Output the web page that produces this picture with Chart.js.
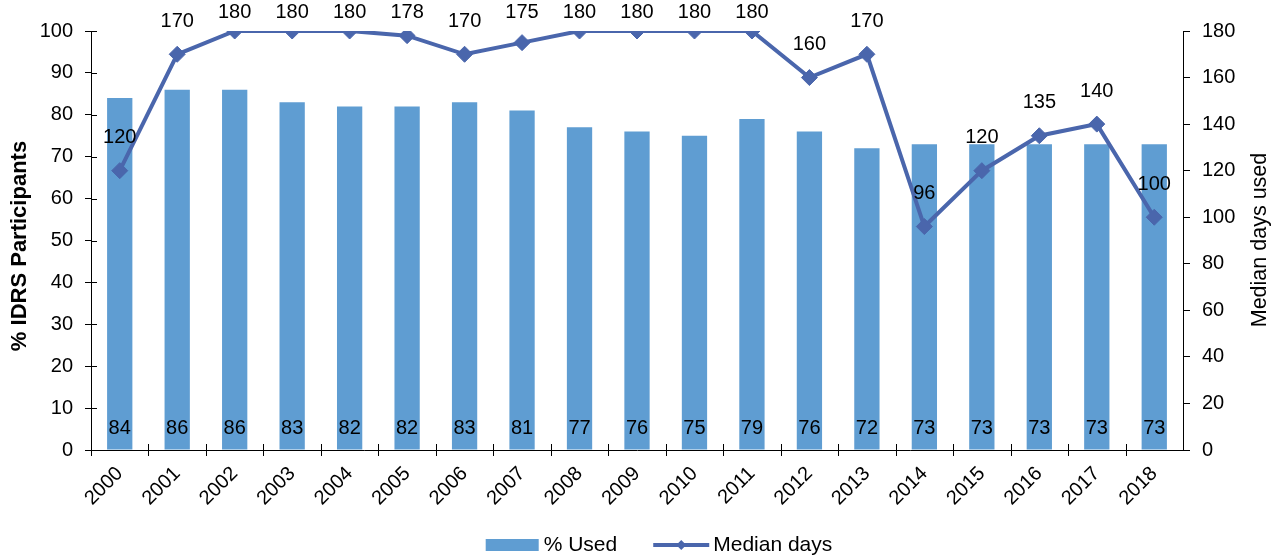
<!DOCTYPE html>
<html>
<head>
<meta charset="utf-8">
<script src="https://cdn.jsdelivr.net/npm/chart.js@4.4.0/dist/chart.umd.min.js"></script>
<style>
  html, body { margin: 0; padding: 0; background: #fff; }
  #wrap { width: 1280px; height: 556px; position: relative; }
</style>
</head>
<body>
<div id="wrap"><canvas id="chart"></canvas></div>
<script>
const years = ["2000", "2001", "2002", "2003", "2004", "2005", "2006", "2007", "2008", "2009",
               "2010", "2011", "2012", "2013", "2014", "2015", "2016", "2017", "2018"];
const pctUsed = [84, 86, 86, 83, 82, 82, 83, 81, 77, 76, 75, 79, 76, 72, 73, 73, 73, 73, 73];
const medianDays = [120, 170, 180, 180, 180, 178, 170, 175, 180, 180, 180, 180, 160, 170, 96, 120, 135, 140, 100];

const barColor = "#5F9DD2";
const lineColor = "#4A66AC";
const font = "'Liberation Sans', Arial, sans-serif";

// value labels, axis titles, cross ticks and legend
const extras = {
    id: "extras",
    afterDatasetsDraw(chart) {
        const ctx = chart.ctx;
        ctx.save();
        ctx.font = "20px " + font;
        ctx.fillStyle = "#000";
        ctx.textAlign = "center";
        ctx.textBaseline = "middle";
        chart.getDatasetMeta(0).data.forEach((bar, i) => {
            ctx.fillText(pctUsed[i], bar.x, chart.chartArea.bottom - 22);
        });
        chart.getDatasetMeta(1).data.forEach((pt, i) => {
            ctx.fillText(medianDays[i], pt.x, Math.max(pt.y - 33, 12));
        });
        ctx.restore();
    },
    afterDraw(chart) {
        const ctx = chart.ctx;
        const area = chart.chartArea;
        ctx.save();

        // inward halves of the crossing tick marks
        ctx.strokeStyle = "#000";
        ctx.lineWidth = 1;
        const y = chart.scales.y;
        y.ticks.forEach((t, i) => {
            const py = Math.round(y.getPixelForTick(i)) + 0.5;
            ctx.beginPath();
            ctx.moveTo(area.left, py);
            ctx.lineTo(area.left + 6, py);
            ctx.stroke();
        });
        const step = (area.right - area.left) / years.length;
        for (let i = 0; i < years.length; i++) {
            const px = Math.round(area.left + step * i) + 0.5;
            ctx.beginPath();
            ctx.moveTo(px, area.bottom + 6);
            ctx.lineTo(px, area.bottom - 6);
            ctx.stroke();
        }

        ctx.fillStyle = "#000";
        ctx.textAlign = "center";
        ctx.textBaseline = "middle";

        // left axis title
        ctx.font = "bold 22px " + font;
        ctx.translate(20, 246);
        ctx.rotate(-Math.PI / 2);
        ctx.fillText("% IDRS Participants", 0, 0);
        ctx.setTransform(1, 0, 0, 1, 0, 0);

        // right axis title, reading bottom to top
        ctx.font = "21.5px " + font;
        ctx.translate(1260, 240);
        ctx.rotate(-Math.PI / 2);
        ctx.fillText("Median days used", 0, 0);
        ctx.setTransform(1, 0, 0, 1, 0, 0);

        // legend
        ctx.font = "21px " + font;
        const ly = 545;
        const t1 = "% Used", t2 = "Median days";
        const w1 = ctx.measureText(t1).width, w2 = ctx.measureText(t2).width;
        const total = 53 + 5 + w1 + 36 + 56 + 4 + w2;
        let lx = 659 - total / 2;
        ctx.fillStyle = barColor;
        ctx.fillRect(lx, ly - 6, 53, 12);
        lx += 58;
        ctx.fillStyle = "#000";
        ctx.textAlign = "left";
        ctx.fillText(t1, lx, ly);
        lx += w1 + 36;
        ctx.strokeStyle = lineColor;
        ctx.lineWidth = 4;
        ctx.beginPath();
        ctx.moveTo(lx, ly);
        ctx.lineTo(lx + 56, ly);
        ctx.stroke();
        ctx.fillStyle = lineColor;
        ctx.beginPath();
        ctx.moveTo(lx + 28, ly - 5);
        ctx.lineTo(lx + 33, ly);
        ctx.lineTo(lx + 28, ly + 5);
        ctx.lineTo(lx + 23, ly);
        ctx.closePath();
        ctx.fill();
        lx += 60;
        ctx.fillStyle = "#000";
        ctx.fillText(t2, lx, ly);
        ctx.restore();
    }
};

new Chart(document.getElementById("chart"), {
    data: {
        labels: years,
        datasets: [{
            type: "bar",
            label: "% Used",
            data: pctUsed,
            backgroundColor: barColor,
            barPercentage: 0.44,
            categoryPercentage: 1,
            yAxisID: "y",
            order: 2
        }, {
            type: "line",
            label: "Median days",
            data: medianDays,
            borderColor: lineColor,
            backgroundColor: lineColor,
            borderWidth: 4,
            pointStyle: "rectRot",
            pointRadius: 8,
            pointBorderWidth: 1,
            tension: 0,
            yAxisID: "y1",
            order: 1
        }]
    },
    options: {
        responsive: true,
        maintainAspectRatio: false,
        animation: false,
        layout: {padding: {top: 31, left: 0, right: 0, bottom: 0}},
        plugins: {
            legend: {display: false},
            tooltip: {enabled: false}
        },
        scales: {
            x: {
                offset: true,
                grid: {drawOnChartArea: false, drawTicks: false, offset: true, color: "#000"},
                border: {color: "#000"},
                ticks: {
                    color: "#000",
                    font: {family: font, size: 20},
                    minRotation: 45,
                    maxRotation: 45,
                    padding: 12
                },
                afterFit(scale) { scale.height = 106; }
            },
            y: {
                position: "left",
                min: 0,
                max: 100,
                ticks: {stepSize: 10, color: "#000", font: {family: font, size: 20}, padding: 12},
                grid: {drawOnChartArea: false, tickLength: 6, color: "#000"},
                border: {color: "#000"},
                afterFit(scale) { scale.width = 91; }
            },
            y1: {
                position: "right",
                min: 0,
                max: 180,
                ticks: {stepSize: 20, color: "#000", font: {family: font, size: 20}, padding: 12},
                grid: {drawOnChartArea: false, tickLength: 7, color: "#000"},
                border: {color: "#000"},
                afterFit(scale) { scale.width = 97; }
            }
        }
    },
    plugins: [extras]
});
</script>
</body>
</html>
